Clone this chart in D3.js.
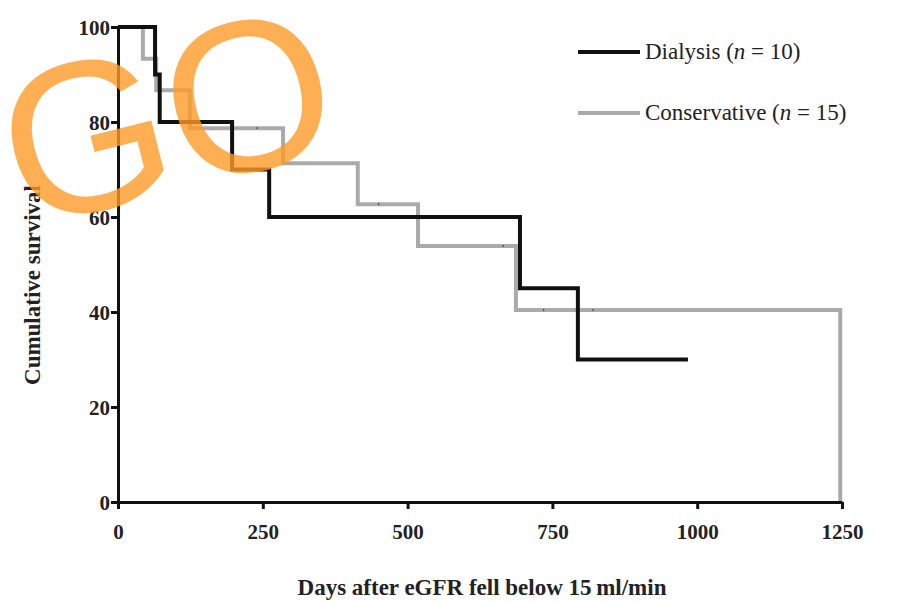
<!DOCTYPE html>
<html><head><meta charset="utf-8">
<script src="https://cdn.jsdelivr.net/npm/d3@7"></script>
<style>body{margin:0;background:#fff}</style></head>
<body><svg id="c" width="898" height="602"></svg>
<script>
const xTicks=[0,250,500,750,1000,1250];
const yTicks=[0,20,40,60,80,100];
const dialysisT=[0,64,72,197,261,694,794,984];
const dialysisS=[100,90,80,70,60,45,30,30];
const consT=[0,43,66,124,285,414,518,687,1247];
const consS=[100,93.3,86.7,78.7,71.3,62.7,53.9,40.4,0];
const consCensorT=[240,450,665,735,820];
const consCensorS=[78.7,62.7,53.9,40.4,40.4];
const svg=d3.select("#c");
const x=d3.scaleLinear().domain([0,1250]).range([118,842]);
const y=d3.scaleLinear().domain([0,100]).range([502,27]);
const font="Liberation Serif, Times New Roman, serif";
const line=d3.line().x(d=>x(d[0])).y(d=>y(d[1])).curve(d3.curveStepAfter);
const cons=consT.map((t,i)=>[t,consS[i]]);
svg.append("path").attr("d",line(cons)).attr("fill","none").attr("stroke","#aaa").attr("stroke-width",4);
svg.selectAll(".cc").data(consCensorT).enter().append("line")
 .attr("x1",d=>x(d)).attr("x2",d=>x(d)).attr("y1",(d,i)=>y(consCensorS[i])-1).attr("y2",(d,i)=>y(consCensorS[i])+1).attr("stroke","#333");
const dia=dialysisT.map((t,i)=>[t,dialysisS[i]]);
svg.append("path").attr("d",line(dia)).attr("fill","none").attr("stroke","#111").attr("stroke-width",4);
const gx=svg.append("g").attr("transform","translate(0,502)").call(d3.axisBottom(x).tickValues(xTicks).tickFormat(d3.format("d")).tickSize(7).tickSizeOuter(0));
const gy=svg.append("g").attr("transform","translate(118,0)").call(d3.axisLeft(y).tickValues(yTicks).tickSize(7).tickSizeOuter(0));
[gx,gy].forEach(g=>{g.select(".domain").attr("stroke","#111").attr("stroke-width",3);
 g.selectAll(".tick line").attr("stroke","#111").attr("stroke-width",3);
 g.selectAll("text").attr("font-family",font).attr("font-weight","bold").attr("font-size",21).attr("fill","#222");});
gx.selectAll("text").attr("dy","1.3em");
gy.selectAll("text").attr("dy","0.35em").attr("x",-8);
svg.append("text").attr("x",482).attr("y",595).attr("text-anchor","middle").attr("font-family",font).attr("font-weight","bold").attr("font-size",23).attr("fill","#222").text("Days after eGFR fell below 15\u2009ml/min");
svg.append("text").attr("transform","translate(40,285) rotate(-90)").attr("text-anchor","middle").attr("font-family",font).attr("font-weight","bold").attr("font-size",23).attr("fill","#222").text("Cumulative survival");
const leg=[["Dialysis","10","#111",52],["Conservative","15","#aaa",113]];
leg.forEach(l=>{svg.append("line").attr("x1",578).attr("x2",640).attr("y1",l[3]).attr("y2",l[3]).attr("stroke",l[2]).attr("stroke-width",4);
 const t=svg.append("text").attr("x",645).attr("y",l[3]+7).attr("font-family",font).attr("font-size",23).attr("fill","#222");
 t.append("tspan").text(l[0]+" (");t.append("tspan").attr("font-style","italic").text("n");t.append("tspan").text(" = "+l[1]+")");});
svg.append("text").attr("x",0).attr("y",195).attr("font-family","Liberation Sans, Arial, sans-serif").attr("font-size",215).attr("fill","rgba(255,155,40,0.8)").attr("transform","rotate(-14,150,120)").text("GO");
</script></body></html>
